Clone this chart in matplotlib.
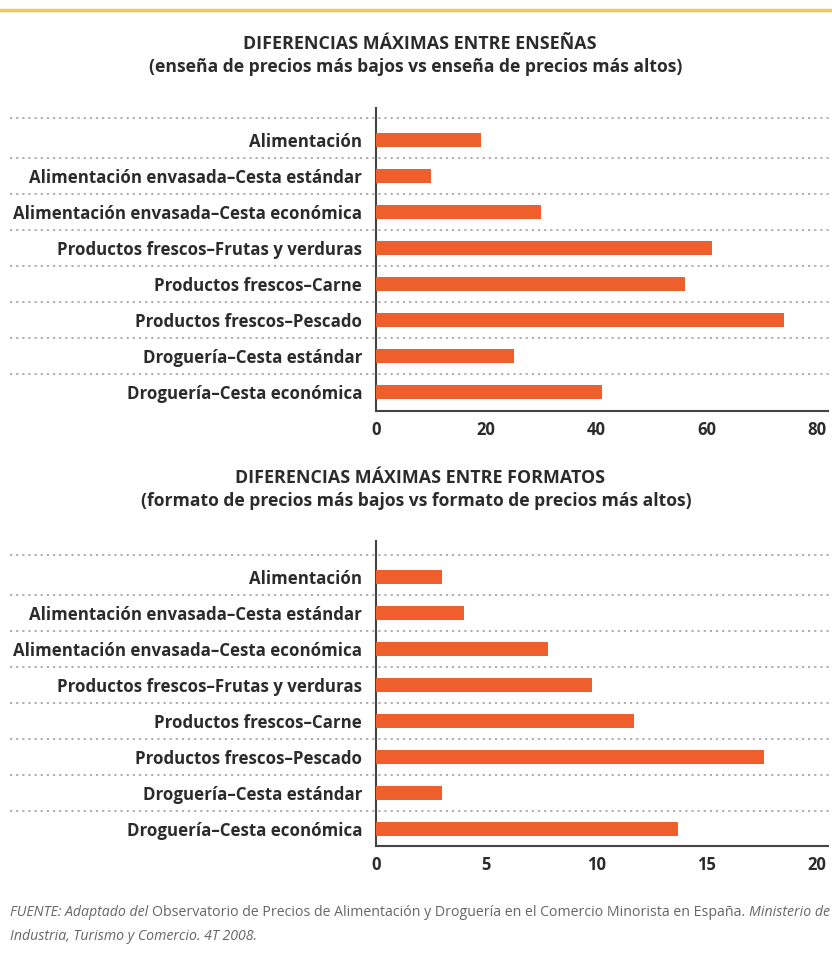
import numpy as np
import matplotlib
matplotlib.use('Agg')
import matplotlib.pyplot as plt
from matplotlib.lines import Line2D

plt.rcParams['font.family'] = ['Open Sans', 'DejaVu Sans']

# datos
categorias = [
    'Alimentación',
    'Alimentación envasada–Cesta estándar',
    'Alimentación envasada–Cesta económica',
    'Productos frescos–Frutas y verduras',
    'Productos frescos–Carne',
    'Productos frescos–Pescado',
    'Droguería–Cesta estándar',
    'Droguería–Cesta económica',
]
ensenas = [19, 10, 30, 61, 56, 74, 25, 41]
formatos = [3, 4, 7.8, 9.8, 11.7, 17.6, 3, 13.7]

ticks_ensenas = [0, 20, 40, 60, 80]
ticks_formatos = [0, 5, 10, 15, 20]

titulo_1 = 'DIFERENCIAS MÁXIMAS ENTRE ENSEÑAS'
sub_1 = '(enseña de precios más bajos vs enseña de precios más altos)'
titulo_2 = 'DIFERENCIAS MÁXIMAS ENTRE FORMATOS'
sub_2 = '(formato de precios más bajos vs formato de precios más altos)'

NARANJA = '#EE5F2B'
TEXTO = '#2b2b2b'
W, H = 832, 963

fig = plt.figure(figsize=(W / 100, H / 100), dpi=100)

# línea superior
fig.add_artist(Line2D([0, 1], [1 - 10 / H, 1 - 10 / H], color='#F7C654', lw=2.5,
                      transform=fig.transFigure))


def panel(top_px, bottom_px, valores, ticks, xmax, ylim):
    ax = fig.add_axes([376 / W, 1 - bottom_px / H, 452 / W, (bottom_px - top_px) / H])
    y = np.arange(len(categorias))
    ax.barh(y, valores, height=0.39, color=NARANJA, zorder=3)
    ax.set_ylim(*ylim)
    ax.set_xlim(0, xmax)
    ax.set_yticks(y)
    ax.set_yticklabels(categorias, fontsize=12.2, fontweight='bold', color=TEXTO)
    ax.set_xticks(ticks)
    ax.set_xticklabels([str(t) for t in ticks], fontsize=12, fontweight='bold', color=TEXTO)
    ax.tick_params(axis='y', length=0, pad=10)
    ax.tick_params(axis='x', length=0, pad=7)
    for s in ['top', 'right']:
        ax.spines[s].set_visible(False)
    for s in ['left', 'bottom']:
        ax.spines[s].set_color('#444444')
        ax.spines[s].set_linewidth(1.5)
    # líneas punteadas entre categorías
    x0 = (10 - 376) / 452
    x1 = (832 - 376) / 452
    trans = ax.get_yaxis_transform()
    for yy in [-0.6] + list(np.arange(1, len(categorias)) - 0.5):
        ax.plot([x0, x1], [yy, yy], transform=trans, color='#a8a8a8', lw=1.3,
                linestyle=(0, (1.2, 2.2)), clip_on=False, zorder=1)
    return ax


panel(108, 411, ensenas, ticks_ensenas, 82, (7.53, -0.89))
panel(541, 846, formatos, ticks_formatos, 20.5, (7.47, -1.0))

for texto, ypx, xpx, fs in [(titulo_1, 44, 420, 12.9), (sub_1, 67, 416, 12.6),
                            (titulo_2, 478, 420, 12.9), (sub_2, 501, 416, 12.6)]:
    fig.text(xpx / W, 1 - ypx / H, texto, ha='center', va='center', fontsize=fs,
             fontweight='bold', color=TEXTO)

# fuente
fuente_1 = [
    ('FUENTE: Adaptado del ', 'italic'),
    ('Observatorio de Precios de Alimentación y Droguería en el Comercio Minorista en España. ', 'normal'),
    ('Ministerio de', 'italic'),
]
fuente_2 = 'Industria, Turismo y Comercio. 4T 2008.'

renderer = fig.canvas.get_renderer()
x = 10
for txt, estilo in fuente_1:
    t = fig.text(x / W, 1 - 912 / H, txt, ha='left', va='center', fontsize=10.2,
                 style=estilo, color='#666666')
    bb = t.get_window_extent(renderer=renderer)
    x += bb.width
fig.text(10 / W, 1 - 936 / H, fuente_2, ha='left', va='center', fontsize=10.2,
         style='italic', color='#666666')

fig.savefig('out.png', dpi=100)
